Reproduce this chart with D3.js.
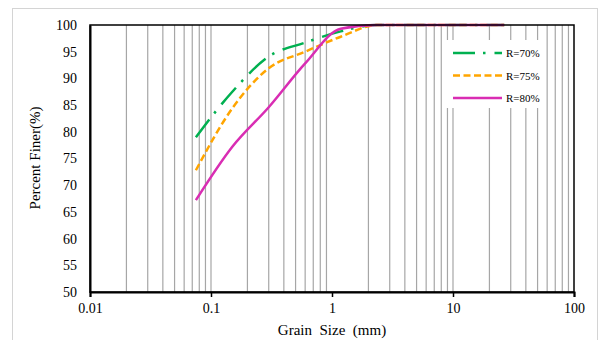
<!DOCTYPE html>
<html>
<head>
<meta charset="utf-8">
<script src="https://cdn.jsdelivr.net/npm/d3@7"></script>
<style>
  body { margin: 0; background: #fff; }
  svg { display: block; font-family: 'Liberation Serif', 'Times New Roman', serif; }
</style>
</head>
<body>
<svg width="601" height="340"></svg>
<script>
// sieve sizes (mm) and percent finer for each R
const sizes = [0.075, 0.15, 0.3, 0.6, 1.18, 2.36, 4.75, 9.5, 19, 26.5];
const r70 = [79.0, 87.5, 94.1, 96.7, 98.8, 100, 100, 100, 100, 100];
const r75 = [72.8, 84.4, 91.9, 95.0, 97.8, 100, 100, 100, 100, 100];
const r80 = [67.2, 77.2, 84.6, 92.8, 99.3, 100, 100, 100, 100, 100];

const xTicks = [0.01, 0.1, 1, 10, 100];
const yTicks = [50, 55, 60, 65, 70, 75, 80, 85, 90, 95, 100];

const series = [
  { name: 'R=70%', values: r70, color: '#00b050', dash: '22,8,2.5,9' },
  { name: 'R=75%', values: r75, color: '#ffa500', dash: '7,3.5' },
  { name: 'R=80%', values: r80, color: '#d92db3', dash: null }
];

const pLeft = 90, pRight = 574, pTop = 25, pBottom = 292;

const svg = d3.select('svg');

// outer frame
svg.append('rect')
  .attr('x', 12.5).attr('y', 8.5)
  .attr('width', 585).attr('height', 345)
  .attr('fill', 'none')
  .attr('stroke', '#d4d4d4');

const x = d3.scaleLog().domain([0.01, 100]).range([pLeft, pRight]);
const y = d3.scaleLinear().domain([50, 100]).range([pBottom, pTop]);

// vertical grid lines (minor 2..9 per decade, plus 0.1 and 10)
const grid = [];
[0.01, 0.1, 1, 10].forEach(d => {
  for (let m = 2; m <= 9; m++) grid.push(d * m);
});
grid.push(0.1, 10);

svg.append('g')
  .selectAll('line')
  .data(grid)
  .enter()
  .append('line')
  .attr('x1', d => x(d)).attr('x2', d => x(d))
  .attr('y1', pTop).attr('y2', pBottom)
  .attr('stroke', '#a6a6a6')
  .attr('stroke-width', 1.2);

// curves
const line = d3.line()
  .x(d => x(d[0]))
  .y(d => y(d[1]))
  .curve(d3.curveMonotoneX);

svg.append('g')
  .selectAll('path')
  .data(series)
  .enter()
  .append('path')
  .attr('d', s => line(sizes.map((v, i) => [v, s.values[i]])))
  .attr('fill', 'none')
  .attr('stroke', s => s.color)
  .attr('stroke-width', 2.5)
  .attr('stroke-dasharray', s => s.dash);

// plot border
svg.append('rect')
  .attr('x', pLeft).attr('y', pTop)
  .attr('width', pRight - pLeft).attr('height', pBottom - pTop)
  .attr('fill', 'none')
  .attr('stroke', '#000')
  .attr('stroke-width', 1.5);

// axes
svg.append('g')
  .attr('transform', `translate(0, ${pBottom})`)
  .call(d3.axisBottom(x).tickValues(xTicks).tickFormat(d => String(d)).tickSize(5).tickPadding(6))
  .call(g => g.select('.domain').attr('stroke-width', 2))
  .call(g => g.selectAll('.tick line').attr('stroke-width', 1.5))
  .call(g => g.selectAll('text').attr('font-size', 14).attr('font-family', 'Liberation Serif').attr('fill', '#000'));

svg.append('g')
  .attr('transform', `translate(${pLeft}, 0)`)
  .call(d3.axisLeft(y).tickValues(yTicks).tickSize(0).tickPadding(13))
  .call(g => g.select('.domain').attr('stroke-width', 2))
  .call(g => g.selectAll('text').attr('font-size', 14).attr('font-family', 'Liberation Serif').attr('fill', '#000'));

// axis titles
svg.append('text')
  .attr('transform', 'translate(40, 158) rotate(-90)')
  .attr('text-anchor', 'middle')
  .attr('font-size', 15)
  .text('Percent Finer(%)');

svg.append('text')
  .attr('x', 332).attr('y', 335)
  .attr('text-anchor', 'middle')
  .attr('font-size', 15)
  .style('white-space', 'pre')
  .text('Grain  Size  (mm)');

// legend
const legend = svg.append('g');
legend.append('rect')
  .attr('x', 442).attr('y', 40)
  .attr('width', 104).attr('height', 68)
  .attr('fill', '#fff');

const items = legend.selectAll('g.item')
  .data(series)
  .enter()
  .append('g')
  .attr('transform', (d, i) => `translate(453, ${53 + i * 22.5})`);

items.append('line')
  .attr('x1', 0).attr('x2', 49)
  .attr('stroke', d => d.color)
  .attr('stroke-width', 2.5)
  .attr('stroke-dasharray', d => d.dash);

items.append('text')
  .attr('x', 53).attr('y', 4)
  .attr('font-size', 11)
  .text(d => d.name);
</script>
</body>
</html>
